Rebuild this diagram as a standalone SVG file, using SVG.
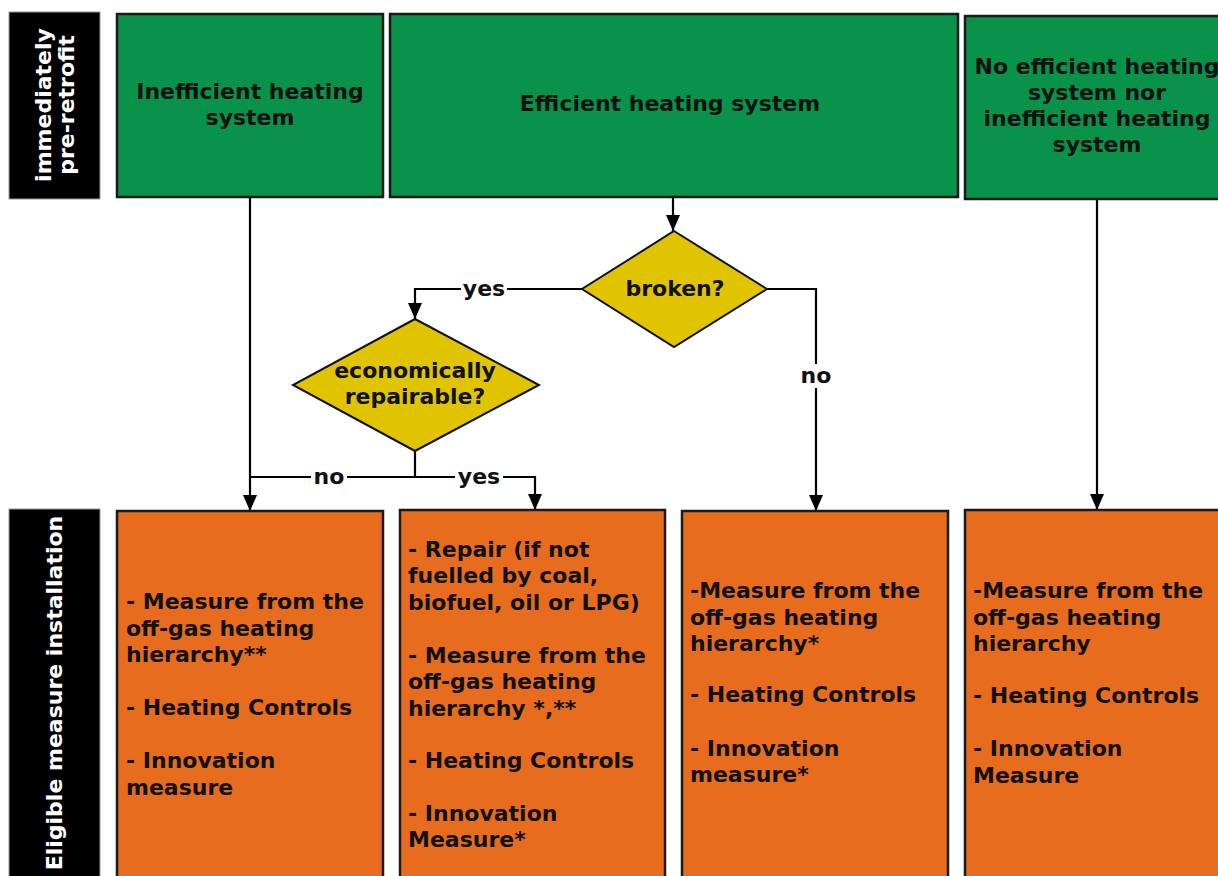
<svg xmlns="http://www.w3.org/2000/svg" width="1218" height="876" viewBox="0 0 1218 876">
<style>
  text { font-family: "DejaVu Sans", Verdana, sans-serif; font-weight: bold; font-size: 22px; fill: #111; }
  .lbl { fill: #fff; font-size: 22px; }
  .side { fill: #000; stroke: #999; stroke-width: 1; }
  .green { fill: #08924A; stroke: #1a1a1a; stroke-width: 2.5; }
  .orange { fill: #E86C1E; stroke: #1a1a1a; stroke-width: 2.5; }
  .dia { fill: #E0C400; stroke: #111; stroke-width: 2; }
  .c { text-anchor: middle; }
  .conn path { fill: none; stroke: #000; stroke-width: 2.2; }
  .bg { fill: #fff; }
</style>
<defs>
  <marker id="arr" markerUnits="userSpaceOnUse" markerWidth="16" markerHeight="16" refX="16" refY="8" orient="auto">
    <path d="M0,1 L16,8 L0,15 z" fill="#000"/>
  </marker>
</defs>
<rect width="1218" height="876" fill="#fff"/>

<g id="label-pre">
  <rect class="side" x="9" y="12" width="91" height="187"/>
  <text class="lbl c" transform="translate(51,105) rotate(-90)">immediately</text>
  <text class="lbl c" transform="translate(74,105) rotate(-90)">pre-retrofit</text>
</g>
<g id="label-eligible">
  <rect class="side" x="9" y="509" width="91" height="380"/>
  <text class="lbl c" transform="translate(62,693) rotate(-90)">Eligible measure installation</text>
</g>

<g id="conn" class="conn">
  <path d="M250 197 V511" marker-end="url(#arr)"/>
  <path d="M415 451 V477 H250"/>
  <path d="M415 477 H535 V510" marker-end="url(#arr)"/>
  <path d="M673 197 V231" marker-end="url(#arr)"/>
  <path d="M582 289 H415 V319" marker-end="url(#arr)"/>
  <path d="M767 289 H816 V511" marker-end="url(#arr)"/>
  <path d="M1097 199 V510" marker-end="url(#arr)"/>
  <rect class="bg" x="461" y="278" width="46" height="22"/>
  <text class="c" x="484" y="296">yes</text>
  <rect class="bg" x="311" y="466" width="36" height="22"/>
  <text class="c" x="329" y="484">no</text>
  <rect class="bg" x="455" y="466" width="48" height="22"/>
  <text class="c" x="479" y="484">yes</text>
  <rect class="bg" x="798" y="364" width="36" height="24"/>
  <text class="c" x="816" y="383">no</text>
</g>

<g id="n-inefficient">
  <rect class="green" x="117" y="14" width="266" height="183"/>
  <text class="c" x="250" y="99">Inefficient heating</text>
  <text class="c" x="250" y="125">system</text>
</g>
<g id="n-efficient">
  <rect class="green" x="390" y="14" width="568" height="183"/>
  <text class="c" x="670" y="111">Efficient heating system</text>
</g>
<g id="n-none">
  <rect class="green" x="965" y="16" width="260" height="183"/>
  <text class="c" x="1097" y="74">No efficient heating</text>
  <text class="c" x="1097" y="100">system nor</text>
  <text class="c" x="1097" y="126">inefficient heating</text>
  <text class="c" x="1097" y="152">system</text>
</g>

<g id="d-broken">
  <polygon class="dia" points="674,231 767,289 674,347 582,289"/>
  <text class="c" x="675" y="296">broken?</text>
</g>
<g id="d-repairable">
  <polygon class="dia" points="415,319 539,385 415,451 293,385"/>
  <text class="c" x="415" y="378">economically</text>
  <text class="c" x="415" y="404">repairable?</text>
</g>

<g id="o1">
  <rect class="orange" x="117" y="511" width="266" height="380"/>
  <text x="126" y="609">- Measure from the</text>
  <text x="126" y="636">off-gas heating</text>
  <text x="126" y="662">hierarchy**</text>
  <text x="126" y="715">- Heating Controls</text>
  <text x="126" y="768">- Innovation</text>
  <text x="126" y="795">measure</text>
</g>
<g id="o2">
  <rect class="orange" x="400" y="510" width="265" height="380"/>
  <text x="408" y="557">- Repair (if not</text>
  <text x="408" y="583">fuelled by coal,</text>
  <text x="408" y="610">biofuel, oil or LPG)</text>
  <text x="408" y="663">- Measure from the</text>
  <text x="408" y="689">off-gas heating</text>
  <text x="408" y="716">hierarchy *,**</text>
  <text x="408" y="768">- Heating Controls</text>
  <text x="408" y="821">- Innovation</text>
  <text x="408" y="847">Measure*</text>
</g>
<g id="o3">
  <rect class="orange" x="682" y="511" width="266" height="380"/>
  <text x="690" y="598">-Measure from the</text>
  <text x="690" y="625">off-gas heating</text>
  <text x="690" y="651">hierarchy*</text>
  <text x="690" y="702">- Heating Controls</text>
  <text x="690" y="756">- Innovation</text>
  <text x="690" y="782">measure*</text>
</g>
<g id="o4">
  <rect class="orange" x="965" y="510" width="260" height="380"/>
  <text x="973" y="598">-Measure from the</text>
  <text x="973" y="625">off-gas heating</text>
  <text x="973" y="651">hierarchy</text>
  <text x="973" y="703">- Heating Controls</text>
  <text x="973" y="756">- Innovation</text>
  <text x="973" y="783">Measure</text>
</g>
</svg>
